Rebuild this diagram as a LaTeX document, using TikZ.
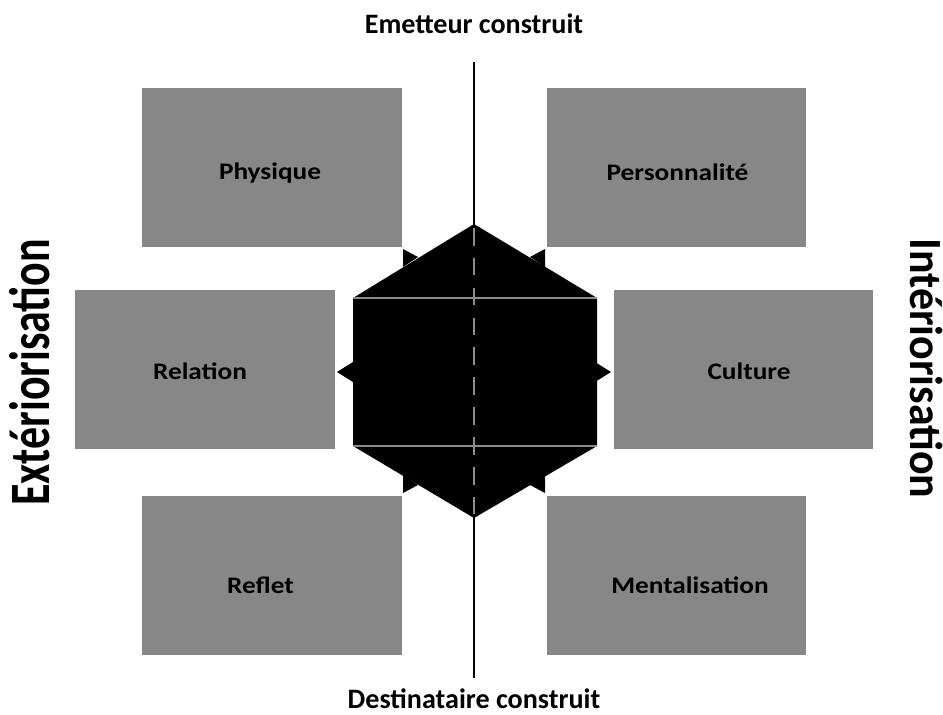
\documentclass[tikz,border=0pt]{standalone}
\usepackage{fontspec}
\setmainfont{Carlito}
\usetikzlibrary{positioning}
\definecolor{boxgray}{HTML}{878787}
\definecolor{linegray}{HTML}{8C8C8C}
\tikzset{%
	bloc/.style   = {fill=boxgray, inner sep=0pt, minimum width=5.2cm, minimum height=3.18cm},
	etiq/.style   = {inner sep=0pt, anchor=base, xscale=1.15, font=\bfseries\fontsize{13.5}{16}\selectfont},
	titre/.style  = {inner sep=0pt, anchor=base, font=\bfseries\fontsize{16}{19}\selectfont},
	axe/.style    = {inner sep=0pt, anchor=base, font=\bfseries\fontsize{25}{30}\selectfont},
	pointe/.style = {fill=black},
}
\begin{document}
\begin{tikzpicture}[x=0.02cm,y=-0.02cm]
		\useasboundingbox (0,0) rectangle (943,714);
		
		\node[titre] (emet) at (474,33) {Emetteur construit};
		\node[titre] (dest) at (474,708) {Destinataire construit};
		\node[axe,rotate=90,yscale=1.3] (ext) at (50,372.5) {Extériorisation};
		\node[axe,rotate=-90,yscale=1.05] (int) at (910,368.5) {Intériorisation};
		
		\node[bloc] (phys) at (272,167.5) {};
		\node[bloc] (pers) at (676.5,167.5) {};
		\node[bloc] (rel) at (205,369.5) {};
		\node[bloc] (cult) at (743.5,369.5) {};
		\node[bloc] (refl) at (272,575.5) {};
		\node[bloc] (ment) at (676.5,575.5) {};
		
		\node[etiq] (physt) at (270,179) {Physique};
		\node[etiq] (perst) at (677.5,180) {Personnalité};
		\node[etiq] (relt) at (200,379) {Relation};
		\node[etiq] (cultt) at (749,379) {Culture};
		\node[etiq] (reflt) at (260.5,593) {Reflet};
		\node[etiq] (mentt) at (690,593) {Mentalisation};
		
		\coordinate (haut) at (474,62);
		\coordinate (bas) at (474,678);
		\draw[line width=1.7pt] (haut) -- (bas);
		
		% hexagone central
		\fill (474,224) -- (597,298) -- (597,446) -- (474,518) -- (353,446) -- (353,298) -- cycle;
		\foreach \s in {1,-1} {
			\fill[pointe] (474-71*\s,267) -- (474-71*\s,249) -- (474-56*\s,257) -- cycle;
			\fill[pointe] (474-71*\s,475) -- (474-71*\s,493) -- (474-56*\s,485) -- cycle;
			\fill[pointe] (474-121*\s,362) -- (474-137*\s,372) -- (474-121*\s,382) -- cycle;
		}
		\draw[linegray,line width=1.1pt] (353,298) -- (597,298) (353,446) -- (597,446);
		\draw[linegray,line width=1.7pt,dash pattern=on 10pt off 7pt] (474,228) -- (474,518);
	\end{tikzpicture}
\end{document}
